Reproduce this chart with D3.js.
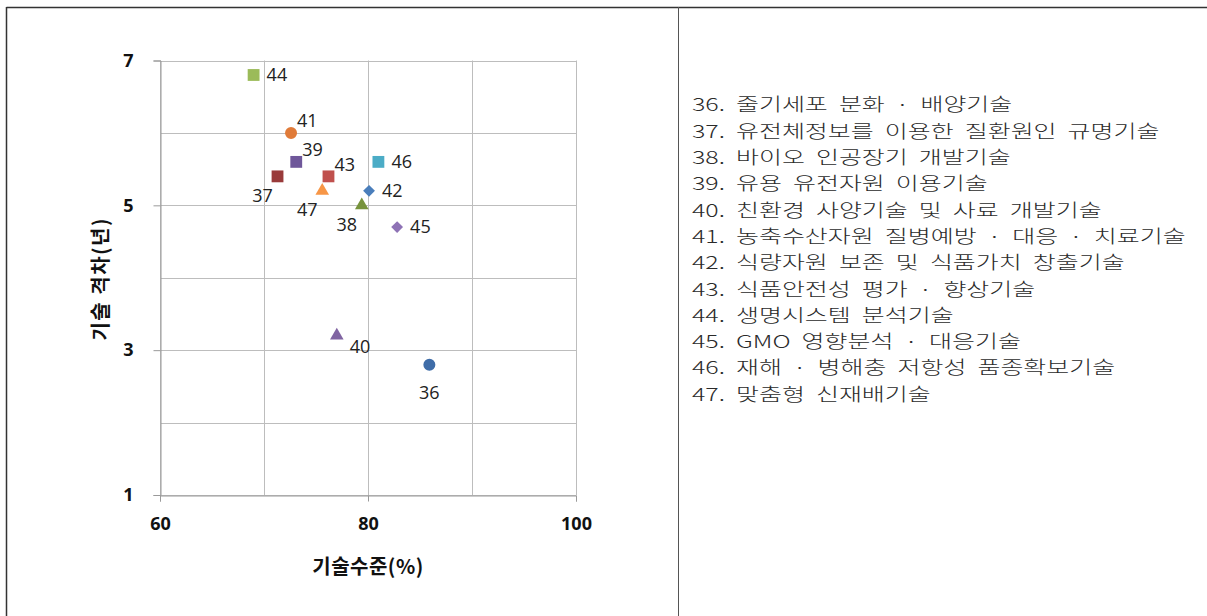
<!DOCTYPE html>
<html><head><meta charset="utf-8">
<script src="https://cdn.jsdelivr.net/npm/d3@7"></script>
<style>
html,body{margin:0;padding:0;background:#fff;}
svg{display:block;}
</style></head>
<body>
<svg id="c" width="1207" height="616"></svg>
<script>
// ---- data ----
const ids      = ["36","37","38","39","40","41","42","43","44","45","46","47"];
const techLevel = [85.9, 71.3, 79.4, 73.1, 77.0, 72.6, 80.1, 76.2, 69.0, 82.8, 81.0, 75.6]; // x (%)
const techGap   = [2.8, 5.4, 5.0, 5.6, 3.2, 6.0, 5.2, 5.4, 6.8, 4.7, 5.6, 5.2];             // y (years)
const shapes    = ["circle","square","triangle","square","triangle","circle","diamond","square","square","diamond","square","triangle"];
const colors    = ["#3F6DA8","#993A3A","#77933C","#6F579A","#8064A2","#E07B39","#4A7EBB","#C0504D","#9BBB59","#8E72B5","#4BACC6","#F79646"];
const labelPos  = ["b","bl","bl","ar","rb","ar","r","ar","r","r","r","bl"];
const names = [
  "36. 줄기세포 분화 · 배양기술",
  "37. 유전체정보를 이용한 질환원인 규명기술",
  "38. 바이오 인공장기 개발기술",
  "39. 유용 유전자원 이용기술",
  "40. 친환경 사양기술 및 사료 개발기술",
  "41. 농축수산자원 질병예방 · 대응 · 치료기술",
  "42. 식량자원 보존 및 식품가치 창출기술",
  "43. 식품안전성 평가 · 향상기술",
  "44. 생명시스템 분석기술",
  "45. GMO 영향분석 · 대응기술",
  "46. 재해 · 병해충 저항성 품종확보기술",
  "47. 맞춤형 신재배기술"
];
const xTicks = [60, 80, 100];
const xGrid  = [60, 70, 80, 90, 100];
const yTicks = [1, 3, 5, 7];
const yGrid  = [1, 2, 3, 4, 5, 6, 7];
const xTitle = "기술수준(%)";
const yTitle = "기술 격차(년)";

// ---- drawing ----
const svg = d3.select("#c");
const x = d3.scaleLinear().domain([60,100]).range([160,576]);
const y = d3.scaleLinear().domain([1,7]).range([495,60.5]);

// frame
svg.append("line").attr("x1",6.5).attr("x2",1207).attr("y1",7.5).attr("y2",7.5).attr("stroke","#333").attr("stroke-width",1.5);
svg.append("line").attr("x1",6.5).attr("x2",6.5).attr("y1",7).attr("y2",616).attr("stroke","#333").attr("stroke-width",1.5);
svg.append("line").attr("x1",678.5).attr("x2",678.5).attr("y1",7).attr("y2",616).attr("stroke","#555").attr("stroke-width",1);

const g = svg.append("g");
// gridlines
g.selectAll(".hg").data(yGrid).join("line")
  .attr("x1",x(60)).attr("x2",x(100))
  .attr("y1",d=>Math.round(y(d))+0.5).attr("y2",d=>Math.round(y(d))+0.5)
  .attr("stroke","#bdbdbd").attr("stroke-width",1);
g.selectAll(".vg").data(xGrid).join("line")
  .attr("y1",y(7)).attr("y2",y(1))
  .attr("x1",d=>Math.round(x(d))+0.5).attr("x2",d=>Math.round(x(d))+0.5)
  .attr("stroke","#bdbdbd").attr("stroke-width",1);

// axes
const xAxis = d3.axisBottom(x).tickValues(xTicks).tickFormat(d3.format("d")).tickSize(6).tickPadding(16);
const yAxis = d3.axisLeft(y).tickValues(yTicks).tickFormat(d3.format("d")).tickSize(7).tickPadding(20);
const gx = g.append("g").attr("transform",`translate(0,${Math.round(y(1))+0.5})`).call(xAxis);
const gy = g.append("g").attr("transform",`translate(${Math.round(x(60))+0.5},0)`).call(yAxis);
[gx,gy].forEach(a=>{
  a.select(".domain").attr("stroke","#9a9a9a");
  a.selectAll(".tick line").attr("stroke","#9a9a9a");
  a.selectAll("text").attr("fill","#111").attr("font-family","'Open Sans','Noto Sans',sans-serif")
   .attr("font-weight","bold").attr("font-size",18);
});
gx.selectAll("text").attr("dy","0.71em");

// axis titles
svg.append("text").attr("x",x(80)).attr("y",574).attr("text-anchor","middle")
  .attr("font-family","'Noto Sans CJK KR',sans-serif").attr("font-weight","bold").attr("font-size",20).attr("fill","#111")
  .attr("letter-spacing",0.5)
  .text(xTitle);
svg.append("text").attr("transform",`translate(108,${(y(3)+y(5))/2+1}) rotate(-90)`).attr("text-anchor","middle")
  .attr("font-family","'Noto Sans CJK KR',sans-serif").attr("font-weight","bold").attr("font-size",20).attr("fill","#111")
  .attr("letter-spacing",1.5)
  .text(yTitle);

// markers
const symType = {circle:d3.symbolCircle, square:d3.symbolSquare, triangle:d3.symbolTriangle, diamond:d3.symbolSquare};
const symSize = {circle:113, square:140, triangle:80, diamond:70};
const pts = ids.map((id,i)=>({id, x:techLevel[i], y:techGap[i], s:shapes[i], c:colors[i], p:labelPos[i]}));
g.selectAll(".pt").data(pts).join("path")
  .attr("d",d=>d3.symbol().type(symType[d.s]).size(symSize[d.s])())
  .attr("transform",d=>`translate(${x(d.x)},${y(d.y)})${d.s==="diamond"?" rotate(45)":""}`)
  .attr("fill",d=>d.c);

// point labels
const off = {
  r:  {dx:13, dy:0,  a:"start"},
  ar: {dx:6,  dy:-12, a:"start"},
  bl: {dx:-15, dy:19, a:"middle"},
  rb: {dx:13, dy:11, a:"start"},
  b:  {dx:0,  dy:28, a:"middle"}
};
g.selectAll(".lb").data(pts).join("text")
  .attr("x",d=>x(d.x)+off[d.p].dx).attr("y",d=>y(d.y)+off[d.p].dy)
  .attr("dy","0.35em").attr("text-anchor",d=>off[d.p].a)
  .attr("font-family","'Open Sans','Noto Sans',sans-serif").attr("font-size",18).attr("fill","#222")
  .text(d=>d.id);

// legend list
const lg = svg.append("g");
const lt = lg.selectAll("text").data(names).join("text")
  .attr("x",0).attr("y",(d,i)=>105+i*26.3).attr("dy","0.36em")
  .attr("font-family","'Noto Sans CJK KR',sans-serif").attr("font-weight",300).attr("font-size",18)
  .attr("fill","#2a2a2a").attr("word-spacing",4)
  .text(d=>d);
const maxLen = d3.max(lt.nodes(), n=>n.getComputedTextLength());
const sx = (1186-692)/maxLen;
lg.attr("transform",`translate(692,0) scale(${sx},1)`);
</script>
</body></html>
